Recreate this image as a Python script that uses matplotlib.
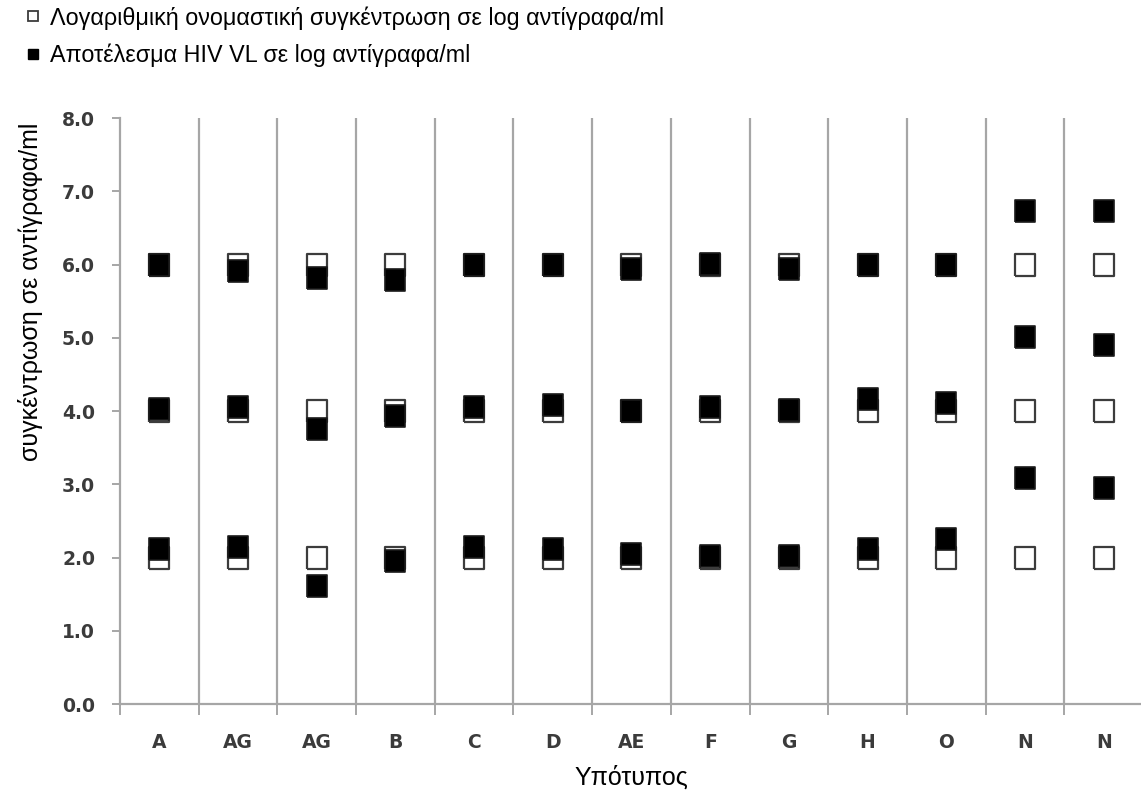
import numpy as np
import matplotlib
matplotlib.use('Agg')
from matplotlib import pyplot as plt
from matplotlib.lines import Line2D

# subtypes on the x axis
subtypes = ['A', 'AG', 'AG', 'B', 'C', 'D', 'AE', 'F', 'G', 'H', 'O', 'N', 'N']

# nominal log concentration of each panel member (log copies/ml)
nominal_levels = [2.0, 4.0, 6.0]

# measured HIV VL results (log copies/ml) at the high, mid and low levels
measured_high = [6.00, 5.91, 5.81, 5.79, 6.00, 6.00, 5.94, 6.01, 5.94, 6.00, 6.00, 6.73, 6.73]
measured_mid = [4.03, 4.06, 3.76, 3.93, 4.06, 4.08, 4.00, 4.05, 4.02, 4.17, 4.11, 5.01, 4.90]
measured_low = [2.11, 2.14, 1.61, 1.95, 2.14, 2.11, 2.05, 2.02, 2.02, 2.11, 2.25, 3.09, 2.95]

legend_labels = ['Λογαριθμική ονομαστική συγκέντρωση σε log αντίγραφα/ml',
                 'Αποτέλεσμα HIV VL σε log αντίγραφα/ml']

GRID = '#a6a6a6'
TICK_TXT = '#3b3b3b'

# slightly tall rectangle marker
box = [(-0.47, -0.5), (0.47, -0.5), (0.47, 0.5), (-0.47, 0.5), (-0.47, -0.5)]

fig = plt.figure(figsize=(11.41, 7.93), dpi=100)
ax = fig.add_axes([120 / 1141, 1 - 704 / 793, 1023 / 1141, 586 / 793])

x = np.arange(len(subtypes)) + 0.5

for lvl in nominal_levels:
    ax.plot(x, [lvl] * len(x), linestyle='none', marker=box, markersize=15.5,
            markerfacecolor='white', markeredgecolor='#3c3c3c',
            markeredgewidth=1.6, zorder=3)

for series in (measured_high, measured_mid, measured_low):
    ax.plot(x, series, linestyle='none', marker=box, markersize=15.5,
            markerfacecolor='black', markeredgecolor='#1a1a1a',
            markeredgewidth=1.2, zorder=4)

ax.set_xlim(0, len(subtypes))
ax.set_ylim(0, 8)

# vertical separators between subtypes
for b in range(1, len(subtypes)):
    ax.axvline(b, color=GRID, linewidth=1.6, zorder=1)

for side in ('top', 'right'):
    ax.spines[side].set_visible(False)
for side in ('left', 'bottom'):
    ax.spines[side].set_color(GRID)
    ax.spines[side].set_linewidth(1.6)

ax.set_yticks(np.arange(0, 8.1, 1.0))
ax.set_yticklabels([f'{v:.1f}' for v in np.arange(0, 8.1, 1.0)])
ax.tick_params(axis='y', length=6, width=1.4, color=GRID, pad=12,
               labelsize=13.5, labelcolor=TICK_TXT)
for t in ax.get_yticklabels():
    t.set_fontweight('bold')

ax.set_xticks(x)
ax.set_xticklabels(subtypes)
ax.set_xticks(np.arange(0, len(subtypes) + 1), minor=True)
ax.tick_params(axis='x', which='major', length=0, pad=21,
               labelsize=13.5, labelcolor=TICK_TXT)
ax.tick_params(axis='x', which='minor', length=8, width=1.4, color=GRID)
for t in ax.get_xticklabels():
    t.set_fontweight('bold')

ax.set_xlabel('Υπότυπος', fontsize=18, family='Liberation Sans')
ax.xaxis.set_label_coords(0.5, -0.104)
ax.set_ylabel('συγκέντρωση σε αντίγραφα/ml', fontsize=18, family='Liberation Sans')
ax.yaxis.set_label_coords(-0.075, 0.703)

handles = [
    Line2D([], [], linestyle='none', marker='s', markersize=7.5,
           markerfacecolor='white', markeredgecolor='#3c3c3c', markeredgewidth=1.3),
    Line2D([], [], linestyle='none', marker='s', markersize=7.5,
           markerfacecolor='black', markeredgecolor='black'),
]
fig.legend(handles, legend_labels, loc='upper left',
           bbox_to_anchor=(27 / 1141, 1 - 6 / 793), borderpad=0, borderaxespad=0,
           frameon=False, handlelength=0.5, handletextpad=0.5, labelspacing=0.62,
           prop={'family': 'Liberation Sans', 'size': 16.8})

fig.savefig('out.png', dpi=100)
